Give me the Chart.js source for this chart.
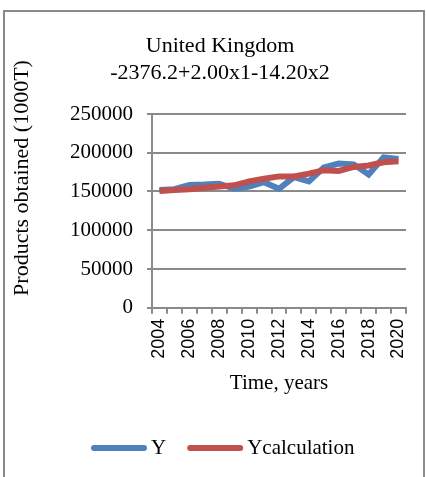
<!DOCTYPE html>
<html>
<head>
<meta charset="utf-8">
<script src="https://cdn.jsdelivr.net/npm/chart.js@4/dist/chart.umd.min.js"></script>
<style>
  body { margin: 0; background: #fff; }
  #wrap { position: relative; width: 426px; height: 477px; overflow: hidden; }
  #frame { position: absolute; left: 3px; top: 10px; width: 418px; height: 490px; border: 2px solid #8a8a8a; }
  canvas { position: absolute; left: 0; top: 0; }
</style>
</head>
<body>
<div id="wrap">
  <div id="frame"></div>
  <canvas id="chart" width="426" height="477"></canvas>
</div>
<script>
var years = ["2004", "2005", "2006", "2007", "2008", "2009", "2010", "2011", "2012",
  "2013", "2014", "2015", "2016", "2017", "2018", "2019", "2020"];
var yActual = [152000, 153000, 158500, 159000, 160000, 153500, 156500, 162000, 153500,
  168500, 163000, 181000, 186000, 185000, 172000, 194000, 192000];
var yCalc = [150500, 152000, 153000, 154800, 156500, 158000, 163000, 166500, 169500,
  169500, 173000, 177400, 176500, 181700, 183500, 187800, 189000];
var titleLines = ["United Kingdom", "-2376.2+2.00x1-14.20x2"];
var yTitle = "Products obtained (1000T)";
var xTitle = "Time, years";

var serif = "'Liberation Serif', 'Times New Roman', serif";
var gridColor = "#8a8a8a";

// y axis title sits higher than the plot centre in the original, so draw it by hand
var yTitlePlugin = {
  id: "yTitle",
  afterDraw: function (chart) {
    var ctx = chart.ctx;
    ctx.save();
    ctx.translate(22, 178);
    ctx.rotate(-Math.PI / 2);
    ctx.font = "22px " + serif;
    ctx.fillStyle = "#000";
    ctx.textAlign = "center";
    ctx.textBaseline = "middle";
    ctx.fillText(yTitle, 0, 0);
    ctx.restore();
  }
};

// excel style legend: long rounded line, text right next to it
var legendPlugin = {
  id: "xlLegend",
  afterDraw: function (chart) {
    var ctx = chart.ctx;
    var x = 91, y = 448;
    ctx.save();
    ctx.font = "21px " + serif;
    ctx.textBaseline = "middle";
    ctx.lineCap = "round";
    ctx.lineWidth = 6;
    chart.data.datasets.forEach(function (ds) {
      ctx.strokeStyle = ds.borderColor;
      ctx.beginPath();
      ctx.moveTo(x + 3, y);
      ctx.lineTo(x + 53, y);
      ctx.stroke();
      ctx.fillStyle = "#000";
      ctx.fillText(ds.label, x + 60, y);
      x += 60 + ctx.measureText(ds.label).width + 21;
    });
    ctx.restore();
  }
};

var config = {
  type: "line",
  data: {
    labels: years,
    datasets: [
      { label: "Y", data: yActual, borderColor: "#4F81BD", backgroundColor: "#4F81BD",
        borderWidth: 6, pointRadius: 0, tension: 0, order: 1 },
      { label: "Ycalculation", data: yCalc, borderColor: "#C0504D", backgroundColor: "#C0504D",
        borderWidth: 6, pointRadius: 0, tension: 0, order: 0 }
    ]
  },
  options: {
    responsive: false,
    devicePixelRatio: 1,
    animation: false,
    layout: { padding: { left: 34, right: 20, top: 33, bottom: 59 } },
    plugins: {
      tooltip: { enabled: false },
      legend: { display: false },
      title: {
        display: true,
        text: titleLines,
        color: "#000",
        font: { family: serif, size: 22, weight: "normal", lineHeight: 1.227 },
        padding: { top: 0, bottom: 27 }
      }
    },
    scales: {
      x: {
        offset: true,
        grid: { offset: true, drawOnChartArea: false, drawTicks: true, tickLength: 6, color: gridColor, lineWidth: 2 },
        border: { display: true, color: gridColor, width: 2 },
        ticks: {
          autoSkip: false,
          minRotation: 90,
          maxRotation: 90,
          padding: 5,
          color: "#000",
          font: { family: "'Liberation Sans', Arial, sans-serif", size: 18 },
          callback: function (v, i) { return i % 2 === 0 ? years[i] : ""; }
        },
        title: {
          display: true,
          text: xTitle,
          color: "#000",
          font: { family: serif, size: 21 },
          padding: { top: 7, bottom: 22 }
        }
      },
      y: {
        min: 0,
        max: 250000,
        afterFit: function (scale) { scale.width = 118; },
        grid: { color: gridColor, lineWidth: 2, tickLength: 5 },
        border: { display: true, color: gridColor, width: 2 },
        ticks: {
          stepSize: 50000,
          padding: 14,
          color: "#000",
          font: { family: serif, size: 21 },
          callback: function (v) { return String(v); }
        }
      }
    }
  },
  plugins: [yTitlePlugin, legendPlugin]
};

new Chart(document.getElementById("chart").getContext("2d"), config);
</script>
</body>
</html>
